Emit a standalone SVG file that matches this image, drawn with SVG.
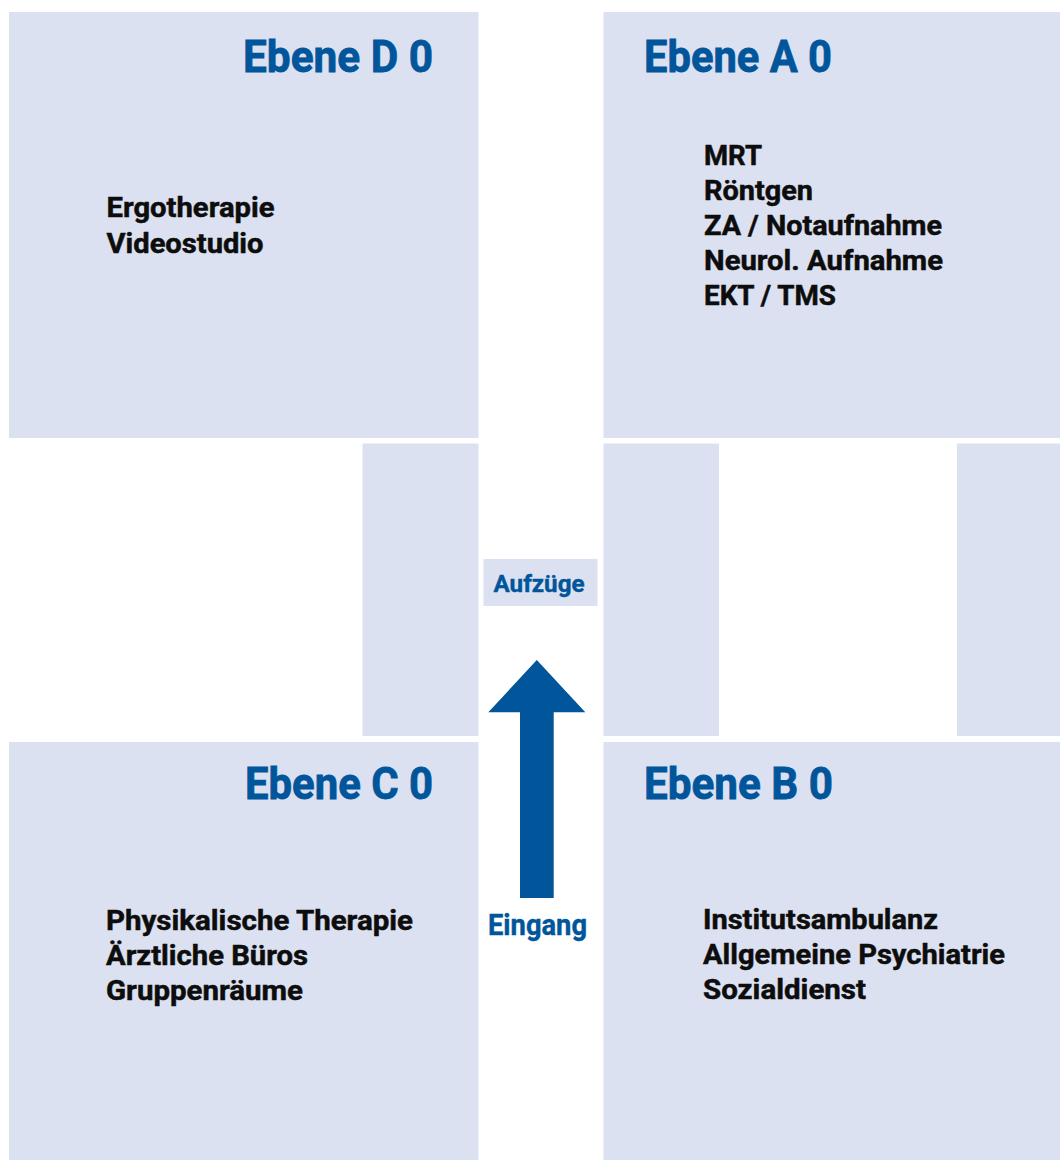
<svg xmlns="http://www.w3.org/2000/svg" width="1060" height="1160" viewBox="0 0 1060 1160">
<style>
.area{fill:#dce1f1}
.title{font-family:Roboto,"Liberation Sans",sans-serif;font-weight:700;font-size:45px;fill:#00559b;stroke:#00559b;stroke-width:0.8px}
.item{font-family:Roboto,"Liberation Sans",sans-serif;font-weight:700;font-size:28px;fill:#0d0d0d;stroke:#0d0d0d;stroke-width:0.5px}
.lbl{font-family:Roboto,"Liberation Sans",sans-serif;font-weight:700;fill:#00559b;stroke:#00559b;stroke-width:0.4px}
.arrow{fill:#00559b}
</style>
<rect width="1060" height="1160" fill="#ffffff"/>
<g id="ebene-d">
<rect class="area" x="9" y="12" width="469.5" height="426"/>
<text class="title" x="433" y="72" text-anchor="end" textLength="190" lengthAdjust="spacingAndGlyphs">Ebene D 0</text>
<text class="item" x="106.5" y="217" textLength="168" lengthAdjust="spacingAndGlyphs">Ergotherapie</text>
<text class="item" x="106.5" y="252.5" textLength="157" lengthAdjust="spacingAndGlyphs">Videostudio</text>
</g>
<g id="ebene-a">
<rect class="area" x="603.5" y="12" width="456.5" height="426"/>
<text class="title" x="644" y="72" textLength="188" lengthAdjust="spacingAndGlyphs">Ebene A 0</text>
<text class="item" x="704" y="165" textLength="58" lengthAdjust="spacingAndGlyphs">MRT</text>
<text class="item" x="704" y="200" textLength="109" lengthAdjust="spacingAndGlyphs">Röntgen</text>
<text class="item" x="704" y="235" textLength="238" lengthAdjust="spacingAndGlyphs">ZA / Notaufnahme</text>
<text class="item" x="704" y="270" textLength="239" lengthAdjust="spacingAndGlyphs">Neurol. Aufnahme</text>
<text class="item" x="704" y="305" textLength="132" lengthAdjust="spacingAndGlyphs">EKT / TMS</text>
</g>
<g id="wing-left">
<rect class="area" x="362.5" y="443.5" width="116" height="292.5"/>
</g>
<g id="wing-right-1">
<rect class="area" x="603.5" y="443.5" width="115.5" height="292.5"/>
</g>
<g id="wing-right-2">
<rect class="area" x="957" y="443.5" width="103" height="292.5"/>
</g>
<g id="aufzuege">
<rect class="area" x="483.5" y="559" width="114" height="47"/>
<text class="lbl" x="493.5" y="591.5" font-size="23" textLength="91" lengthAdjust="spacingAndGlyphs">Aufzüge</text>
</g>
<g id="ebene-c">
<rect class="area" x="9" y="742" width="469.5" height="418"/>
<text class="title" x="433" y="799" text-anchor="end" textLength="188" lengthAdjust="spacingAndGlyphs">Ebene C 0</text>
<text class="item" x="106" y="930" textLength="307" lengthAdjust="spacingAndGlyphs">Physikalische Therapie</text>
<text class="item" x="106" y="965" textLength="202" lengthAdjust="spacingAndGlyphs">Ärztliche Büros</text>
<text class="item" x="106" y="1000" textLength="197" lengthAdjust="spacingAndGlyphs">Gruppenräume</text>
</g>
<g id="ebene-b">
<rect class="area" x="603.5" y="742" width="456.5" height="418"/>
<text class="title" x="644" y="799" textLength="189" lengthAdjust="spacingAndGlyphs">Ebene B 0</text>
<text class="item" x="703" y="929" textLength="235" lengthAdjust="spacingAndGlyphs">Institutsambulanz</text>
<text class="item" x="703" y="964" textLength="302" lengthAdjust="spacingAndGlyphs">Allgemeine Psychiatrie</text>
<text class="item" x="703" y="999" textLength="163" lengthAdjust="spacingAndGlyphs">Sozialdienst</text>
</g>
<g id="connectors">
<polygon class="arrow" points="536.8,660 585.3,712.3 553.7,712.3 553.7,898 520,898 520,712.3 488.3,712.3"/>
</g>
<g id="eingang">
<text class="lbl" x="488" y="935" font-size="29" textLength="99" lengthAdjust="spacingAndGlyphs">Eingang</text>
</g>
</svg>
